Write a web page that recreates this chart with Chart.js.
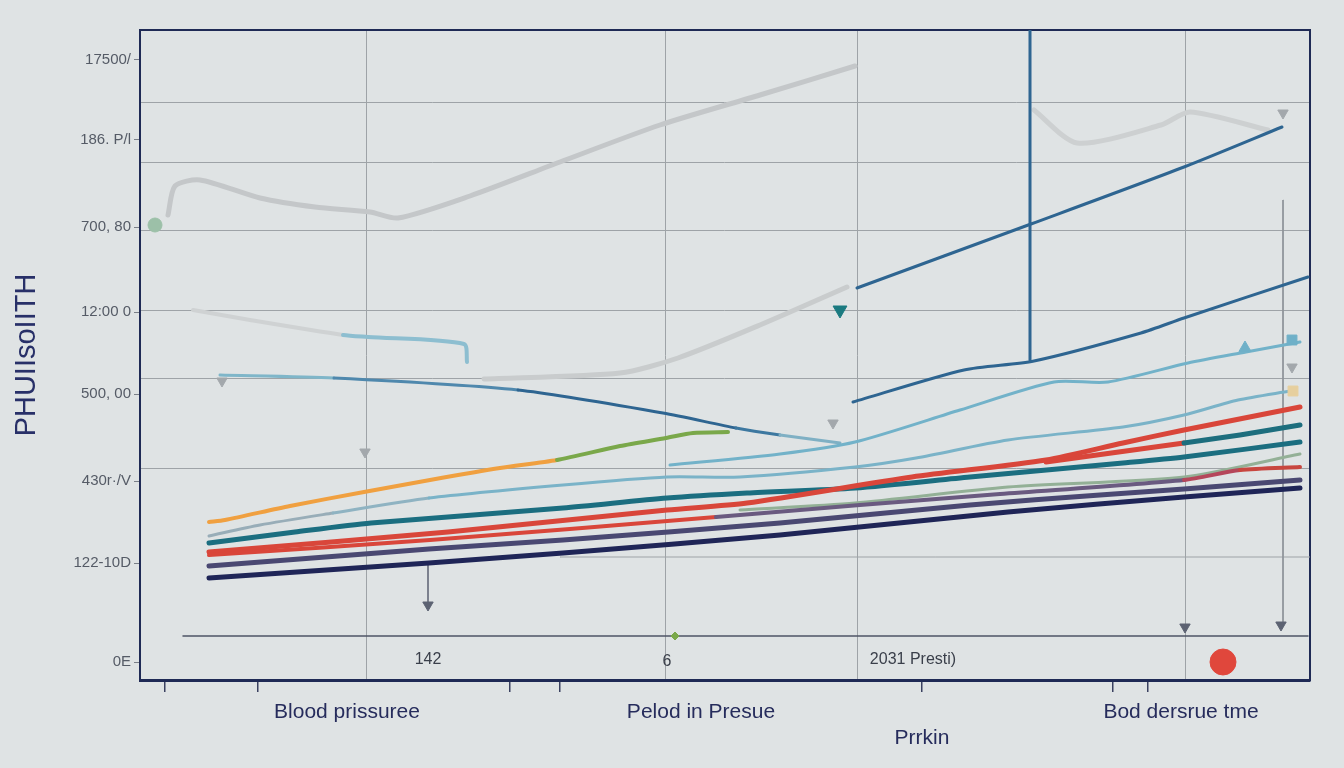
<!DOCTYPE html>
<html>
<head>
<meta charset="utf-8">
<script src="https://cdn.jsdelivr.net/npm/chart.js@4.4.0/dist/chart.umd.min.js"></script>
<style>
  html, body { margin: 0; padding: 0; background: #dfe3e4; }
  #wrap { width: 1344px; height: 768px; }
</style>
</head>
<body>
<div id="wrap"><canvas id="chart"></canvas></div>
<script>
// axis ticks and labels
const yTickValues = [62, 54, 45.3, 36.8, 28.6, 19.9, 11.7, 1.8];
const yTickLabels = ['17500/', '186. P/l', '700, 80', '12:00 0', '500, 00', '430r·/V', '122-10D', '0E'];
const yGridValues = [57.7, 51.7, 44.9, 37, 30.2, 21.2];
const xGridValues = [22.6, 52.5, 71.8, 104.5];
const xTickMarks = [2.5, 11.8, 37, 42, 78.2, 97.3, 100.8];
const xLabelValues = [20.7, 56.1, 78.2, 104.1];
const xLabels = ['Blood prissuree', 'Pelod in Presue', ['', 'Prrkin'], 'Bod dersrue tme'];
const innerLabels = ['142', '6', '2031 Presti)'];
const innerLabelX = [28.8, 52.7, 77.3];
const innerLabelY = [2.0, 1.8, 2.0];

// series
const greyUpper = [[2.8,46.5],[3.5,49.4],[6,50],[12,48.2],[17.5,47.3],[23,46.8],[25.8,46.2],[33,48.4],[42,51.8],[52,55.5],[62,58.5],[71.5,61.4]];
const greyRight = [[89.4,57],[93.7,53.7],[102.1,55.5],[105,56.8],[112.8,55]];
const blueTop = [[71.7,39.2],[89.1,45.6],[104.4,51.3],[114.2,55.3]];
const blueSecond = [[71.3,27.8],[82.4,31],[89.4,31.9],[100.1,34.7],[104.4,36.2],[116.8,40.3]];
const greyStep = [[5.3,37],[11,36],[20.3,34.5],[22.8,34.3],[32.4,33.6],[32.7,31.8]];
const greyMid = [[34.4,30.1],[48,30.7],[53.8,32.2],[62,35.5],[70.7,39.3]];
const blueFalling = [[8,30.5],[19.4,30.2],[37.8,29],[52.3,26.7],[59.6,25.2],[64,24.5],[70,23.7]];
const orangeGreen = [[6.9,15.8],[8.5,16],[15,17.4],[22.4,18.8],[29,20],[36,21.2],[41.7,22],[48,23.4],[52.6,24.2],[55.3,24.7],[58.8,24.8]];
const skyUpper = [[53,21.5],[64,22.6],[71.5,23.8],[82,27],[91.4,29.8],[96.8,29.8],[104.8,31.7],[110.6,32.8],[116,33.8]];
const skyLower = [[6.9,14.4],[12,15.5],[19.3,16.7],[28.9,18.2],[42.3,19.5],[52.7,20.3],[60,20.3],[71.5,21.3],[77.6,22.2],[86.8,24],[98.3,25.3],[104.4,26.5],[109.8,28],[115,28.9]];
const tealMain = [[6.9,13.7],[15.5,14.8],[23.1,15.7],[42.3,17.2],[52.7,18.2],[60.7,18.7],[71.5,19.2],[83,20.3],[98.3,21.7],[104.4,22.3],[116,23.8]];
const redUpper = [[6.9,12.8],[30.8,14.8],[52.7,17],[60.7,17.7],[77.2,20.3],[90.6,22],[98.3,23.7],[104.4,25],[116,27.3]];
const redTeal = [[90.6,21.8],[104.4,23.7],[110,24.5],[116,25.5]];
const redLower = [[6.9,12.5],[29,14],[57.6,16.3],[72,17.5],[86,18.6],[104.4,20],[110,21],[116,21.3]];
const sage = [[60,17],[71.5,17.7],[86.8,19.3],[104.4,20.3],[116,22.6]];
const purple = [[6.9,11.4],[28.9,13.1],[42.3,14],[64,15.7],[83,17.5],[96,18.5],[104.4,19.1],[116,20]];
const navy = [[6.9,10.2],[28.9,11.7],[42.3,12.7],[64,14.5],[86.8,16.8],[104.4,18.3],[116,19.2]];

// guide lines
const blueVertical = [[89,65],[89,32]];
const arrowStem = [[28.8,11.5],[28.8,7.5]];
const rightStem = [[114.3,48],[114.3,5.5]];
const baseLine = [[4.3,4.4],[116.8,4.4]];
const lowGrid = [[42,12.3],[117,12.3]];

// markers
const greyArrows = [[22.5,22.8],[8.2,29.9],[69.3,25.7],[114.3,56.7],[115.2,31.3]];
const darkArrows = [[28.8,7.5],[104.5,5.3],[114.1,5.5]];
const tealArrow = [[70,37]];
const skyTriangle = [[110.5,33.2]];
const skySquare = [[115.2,34]];
const tanSquare = [[115.3,28.9]];
const sageDot = [[1.5,45.5]];
const greenDot = [[53.5,4.4]];
const redDot = [[108.3,1.8]];

function pts(arr) {
  return arr.map(p => ({ x: p[0], y: p[1] }));
}

function line(arr, color, width, extra) {
  return Object.assign({
    data: pts(arr),
    borderColor: color,
    borderWidth: width,
    pointRadius: 0,
    tension: 0.25,
    fill: false,
    borderCapStyle: 'round',
    borderJoinStyle: 'round'
  }, extra || {});
}

function segColors(colors) {
  return { segment: { borderColor: ctx => colors[ctx.p0DataIndex] || colors[colors.length - 1] } };
}

function marker(arr, style, color, radius, rotation) {
  return {
    data: pts(arr),
    showLine: false,
    pointStyle: style,
    pointRadius: radius,
    pointRotation: rotation || 0,
    pointBackgroundColor: color,
    pointBorderColor: color,
    borderColor: color
  };
}

const innerTextPlugin = {
  id: 'innerText',
  afterDatasetsDraw(chart) {
    const { ctx, scales: { x, y } } = chart;
    ctx.save();
    ctx.font = '16px "Liberation Sans"';
    ctx.fillStyle = '#3a3f4a';
    ctx.textAlign = 'center';
    ctx.textBaseline = 'middle';
    innerLabels.forEach((t, i) => {
      ctx.fillText(t, x.getPixelForValue(innerLabelX[i]), y.getPixelForValue(innerLabelY[i]));
    });
    ctx.restore();
  }
};

const datasets = [
  marker(redDot, 'circle', '#e0473c', 13),
  marker(greyArrows, 'triangle', '#a3a8ac', 6, 180),
  marker(darkArrows, 'triangle', '#5c6272', 6, 180),
  marker(tealArrow, 'triangle', '#1b7a80', 8, 180),
  marker(skyTriangle, 'triangle', '#6fb0c8', 7),
  marker(skySquare, 'rect', '#6fb0c8', 7),
  marker(tanSquare, 'rect', '#e6cf9e', 7),
  marker(sageDot, 'circle', '#9cc0a8', 7),
  marker(greenDot, 'rectRot', '#7aa84a', 4),
  line(orangeGreen, '#f0a040', 4, segColors(['#f0a040','#f0a040','#f0a040','#f0a040','#f0a040','#f0a040','#7aa84a','#7aa84a','#7aa84a','#7aa84a'])),
  line(navy, '#1f2557', 5),
  line(purple, '#4a4872', 5),
  line(redLower, '#d9463a', 4, segColors(['#d9463a','#d9463a','#6a5a80','#6a5a80','#6a5a80','#b5465a','#c8463f'])),
  line(redUpper, '#d9463a', 5),
  line(redTeal, '#d9463a', 5, segColors(['#d9463a','#1d6e7e','#1d6e7e'])),
  line(tealMain, '#1b6e80', 5),
  line(sage, '#93b096', 3),
  line(skyLower, '#78b3c8', 3, segColors(['#98adb8','#98adb8','#8fb3c2','#7ab3c8'])),
  line(skyUpper, '#72b2c9', 3),
  line(blueFalling, '#2e6591', 3, segColors(['#7fb6c9','#4f88ad','#2e6591','#2e6591','#3d78a0','#7fb0c4'])),
  line(blueSecond, '#2e6591', 3),
  line(blueTop, '#2e6591', 3),
  line(blueVertical, '#2e6591', 3, { tension: 0 }),
  line(greyStep, '#c6c9cb', 4, segColors(['#cfd2d3','#cfd2d3','#8dbed0','#8dbed0','#8dbed0'])),
  line(greyMid, '#c9cccd', 5),
  line(greyUpper, '#c4c7c9', 5),
  line(greyRight, '#cdd0d1', 5),
  line(arrowStem, '#5c6272', 1.5, { tension: 0 }),
  line(rightStem, '#8e9399', 1, { tension: 0 }),
  line(baseLine, '#4f5665', 1.5, { tension: 0 }),
  line(lowGrid, '#9ea3a7', 1, { tension: 0 })
];

new Chart(document.getElementById('chart'), {
  type: 'line',
  data: { datasets: datasets },
  plugins: [innerTextPlugin],
  options: {
    responsive: true,
    maintainAspectRatio: false,
    animation: false,
    layout: { padding: { top: 30, right: 34, left: 0, bottom: 0 } },
    plugins: { legend: { display: false }, tooltip: { enabled: false } },
    scales: {
      x: {
        type: 'linear',
        min: 0,
        max: 117,
        position: 'bottom',
        afterBuildTicks: s => {
          const vals = Array.from(new Set(xTickMarks.concat(xLabelValues))).sort((a, b) => a - b);
          s.ticks = vals.map(v => ({ value: v }));
        },
        afterFit: s => { s.height = 88; },
        border: { color: '#1f2a55', width: 3 },
        grid: {
          drawOnChartArea: false,
          tickLength: 12,
          lineWidth: 1.5,
          color: ctx => (ctx.tick && xTickMarks.includes(ctx.tick.value)) ? '#3a4160' : 'rgba(0,0,0,0)'
        },
        ticks: {
          autoSkip: false,
          maxRotation: 0,
          padding: 8,
          color: '#262c5c',
          font: { family: 'Liberation Sans', size: 21 },
          callback: v => {
            const i = xLabelValues.indexOf(v);
            return i >= 0 ? xLabels[i] : '';
          }
        }
      },
      xg: {
        type: 'linear',
        min: 0,
        max: 117,
        position: 'top',
        afterBuildTicks: s => { s.ticks = xGridValues.map(v => ({ value: v })); },
        afterFit: s => { s.height = 0; },
        border: { color: '#1f2a55', width: 2 },
        grid: { color: '#9ea3a7', lineWidth: 1, drawTicks: false },
        ticks: { display: false }
      },
      y: {
        type: 'linear',
        min: 0,
        max: 65,
        afterBuildTicks: s => { s.ticks = yTickValues.slice().sort((a, b) => a - b).map(v => ({ value: v })); },
        afterFit: s => { s.width = 140; },
        border: { color: '#1f2a55', width: 2 },
        grid: { drawOnChartArea: false, tickLength: 6, color: '#7a7f88' },
        ticks: {
          padding: 3,
          color: '#555b66',
          font: { family: 'Liberation Sans', size: 15 },
          callback: v => {
            const i = yTickValues.indexOf(v);
            return i >= 0 ? yTickLabels[i] : '';
          }
        },
        title: {
          display: true,
          text: 'PHUIIsoIITH',
          color: '#283068',
          font: { family: 'Liberation Sans', size: 29 },
          padding: { top: 10, bottom: 0 }
        }
      },
      yg: {
        type: 'linear',
        min: 0,
        max: 65,
        position: 'right',
        afterBuildTicks: s => { s.ticks = yGridValues.map(v => ({ value: v })); },
        afterFit: s => { s.width = 0; },
        border: { color: '#1f2a55', width: 2 },
        grid: { color: '#9ea3a7', lineWidth: 1, drawTicks: false },
        ticks: { display: false }
      }
    }
  }
});
</script>
</body>
</html>
